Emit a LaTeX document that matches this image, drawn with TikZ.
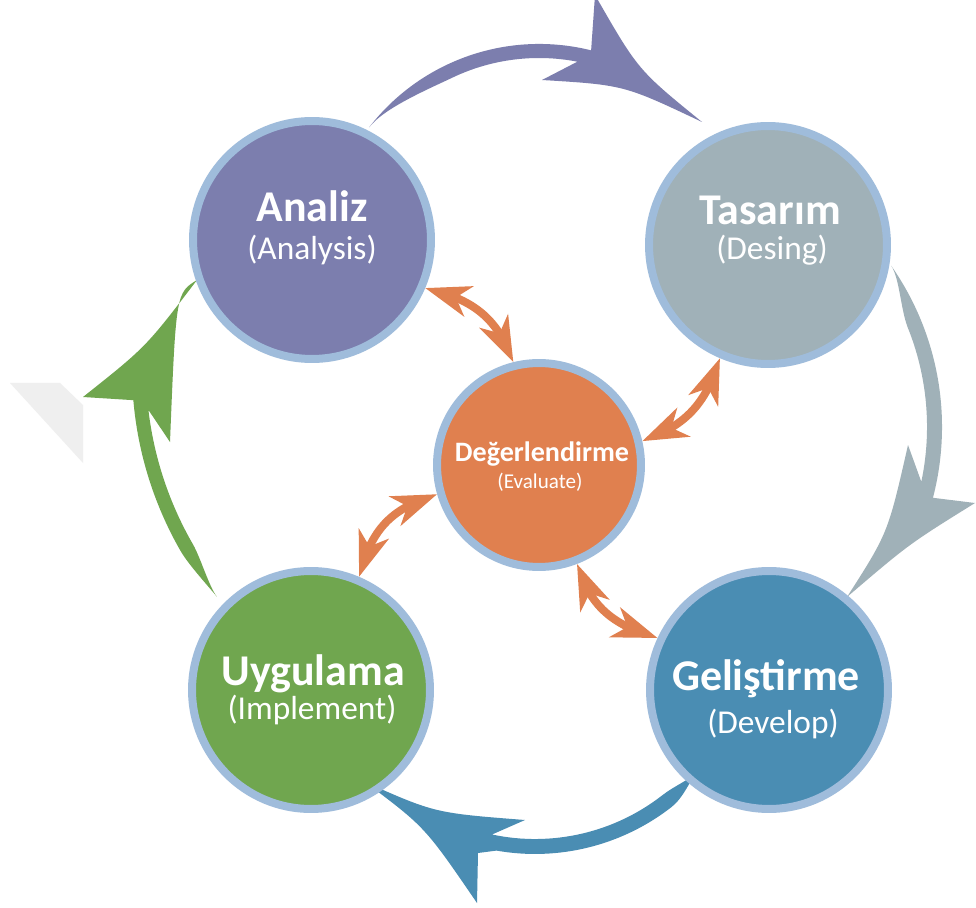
\documentclass[tikz,border=0pt]{standalone}
\usepackage{fontspec}
\setmainfont{Carlito}
\usetikzlibrary{arrows.meta,bending}
\definecolor{cpurple}{HTML}{7C7EAE}
\definecolor{cgrey}{HTML}{A0B1B8}
\definecolor{cblue}{HTML}{4A8DB3}
\definecolor{cgreen}{HTML}{70A64F}
\definecolor{corange}{HTML}{E0804F}
\definecolor{cborder}{HTML}{9FBCDB}
\definecolor{cshadow}{HTML}{EFEFEF}
\begin{document}
\begin{tikzpicture}[x=0.02cm,y=-0.02cm,
  phase/.style={circle, draw=cborder, line width=0.16cm, minimum size=4.76cm, inner sep=0pt},
  title/.style={text=white, font=\bfseries\fontsize{25}{30}\selectfont, anchor=base, inner sep=0pt},
  subtitle/.style={text=white, font=\fontsize{19}{23}\selectfont, anchor=base, inner sep=0pt},
  dbl/.style={draw=corange, line width=0.16cm,
    {Stealth[length=0.9cm,width=0.62cm,inset=0.26cm]}-{Stealth[length=0.9cm,width=0.62cm,inset=0.26cm]}}
]
\useasboundingbox (0,0) rectangle (976,908);
\clip (0,0) rectangle (976,908);
\fill[white] (0,0) rectangle (976,908);

% faint shadow at left
\fill[cshadow] (10,383) -- (60,383) -- (83,405) -- (83,463) -- cycle;

% big cycle arrows (tapered arcs with notched heads)
% Analiz -> Tasarim
\fill[cpurple] (369,127.5) arc[start angle=-142.3, end angle=-76, radius=215]
  -- (595,-5) .. controls (638,70) .. (702,122) .. controls (624,85) .. (542,80)
  -- (577.4,61.7) arc[start angle=-79, end angle=-115, radius=201]
  .. controls (427,89.7) and (384,108) .. (369,127.5) -- cycle;
% Tasarim -> Gelistirme
\fill[cgrey] (891.2,265.8) arc[start angle=-35, end angle=14.6, radius=281]
  -- (975,503) .. controls (909,544) .. (847,597) .. controls (888,533) .. (908,445)
  -- (921.3,481.8) arc[start angle=11.9, end angle=-22, radius=266]
  .. controls (900.5,308.5) and (899.6,278.3) .. (891.2,265.8) -- cycle;
% Gelistirme -> Uygulama
\fill[cblue] (697,771.8) .. controls (690.5,779.4) and (683.5,797.7) .. (671.7,806.9)
  arc[start angle=52, end angle=100, radius=222]
  -- (478,853) -- (477,903) .. controls (425,827) .. (365,782) .. controls (435,813) .. (525,820)
  -- (492,834.5) arc[start angle=102, end angle=52, radius=207]
  .. controls (674.2,785.9) and (690.5,779.4) .. (697,771.8) -- cycle;
% Uygulama -> Analiz
\fill[cgreen] (216.9,596.7) .. controls (209.3,587.4) and (188.4,564.5) .. (180.9,551.5)
  arc[start angle=150, end angle=175.1, radius=365]
  -- (83,397) .. controls (146,347) .. (197,280) .. controls (176,293) .. (170,442)
  -- (148.4,409.9) arc[start angle=173.3, end angle=150, radius=351]
  .. controls (200.5,557.5) and (209.3,587.4) .. (216.9,596.7) -- cycle;

% phase circles
\node[phase, fill=cpurple] (analiz) at (312,240) {};
\node[phase, fill=cgrey] (tasarim) at (768,245) {};
\node[phase, fill=cblue] (gelistirme) at (769,690) {};
\node[phase, fill=cgreen] (uygulama) at (311,690) {};
\node[phase, fill=corange, minimum size=4.08cm] (deger) at (539,465) {};

% labels
\node[title] (analizT) at (312,222) {Analiz};
\node[subtitle] (analizS) at (312,260) {(Analysis)};
\node[title] (tasarimT) at (770,225) {Tasarım};
\node[subtitle] (tasarimS) at (772,260) {(Desing)};
\node[title] (gelistirmeT) at (766,690) {Geliştirme};
\node[subtitle] (gelistirmeS) at (773,733) {(Develop)};
\node[title] (uygulamaT) at (313,685) {Uygulama};
\node[subtitle] (uygulamaS) at (312,719) {(Implement)};
\node[text=white, font=\bfseries\fontsize{16}{19}\selectfont, anchor=base, inner sep=0pt] (degerT) at (542,461) {Değerlendirme};
\node[text=white, font=\fontsize{12}{14}\selectfont, anchor=base, inner sep=0pt] (degerS) at (540,488) {(Evaluate)};

% evaluation double arrows
\draw[dbl] (analiz.-23) .. controls (477,300) and (498,321) .. (deger.104);
\draw[dbl] (deger.13) .. controls (687,425) and (706,403) .. (tasarim.-113);
\draw[dbl] (deger.-69) .. controls (590,606) and (612,625) .. (gelistirme.155);
\draw[dbl] (deger.196) .. controls (389,509) and (371,531) .. (uygulama.67);
\end{tikzpicture}
\end{document}
